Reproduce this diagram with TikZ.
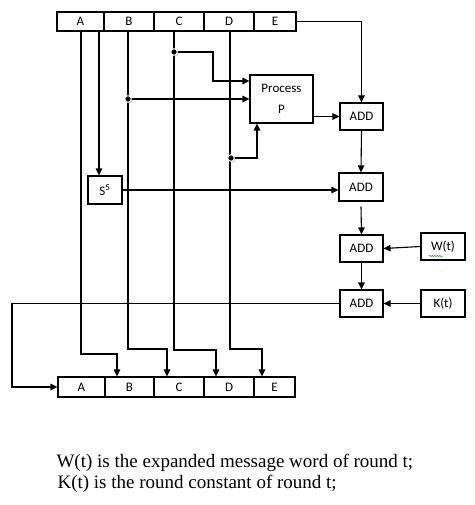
\documentclass[tikz,border=0pt]{standalone}
\usepackage{fontspec}
\setmainfont{Liberation Serif}
\newfontfamily\boxfont{Carlito}
\usetikzlibrary{arrows.meta,shadows,decorations.pathmorphing}
\begin{document}
\begin{tikzpicture}[x=1pt,y={(0pt,-1pt)},
  line width=1.1pt,
  arr/.style={-{Triangle[length=7pt,width=6.5pt]}},
  cell/.style={draw, inner sep=0, minimum height=19pt, font=\boxfont\fontsize{13}{15}\selectfont},
  box/.style={draw, inner sep=0, font=\boxfont\fontsize{13}{15}\selectfont},
  dot/.style={circle, fill=black, draw=white, line width=1pt, inner sep=0, minimum size=6.5pt,
    circular drop shadow={shadow xshift=1pt, shadow yshift=-1pt, opacity=0.4}},
  captxt/.style={anchor=base west, inner sep=0, font=\fontsize{19}{22}\selectfont},
  ]
\useasboundingbox (0,0) rectangle (474,505);

% top register
\node[cell, minimum width=47pt] (tA) at (80.5,21.5) {A};
\node[cell, minimum width=50pt] (tB) at (129,21.5) {B};
\node[cell, minimum width=50pt] (tC) at (179,21.5) {C};
\node[cell, minimum width=50pt] (tD) at (229,21.5) {D};
\node[cell, minimum width=42pt] (tE) at (275,21.5) {E};

% bottom register
\node[cell, minimum width=47pt, minimum height=20pt] (bA) at (81.5,387) {A};
\node[cell, minimum width=49pt, minimum height=20pt] (bB) at (129.5,387) {B};
\node[cell, minimum width=50pt, minimum height=20pt] (bC) at (179,387) {C};
\node[cell, minimum width=50pt, minimum height=20pt] (bD) at (229,387) {D};
\node[cell, minimum width=41pt, minimum height=20pt] (bE) at (274.5,387) {E};

% boxes
\node[box, minimum width=63pt, minimum height=48pt, align=center,
  font=\boxfont\fontsize{13}{21}\selectfont] (P) at (281.5,99) {Process\\P};
\node[box, minimum width=43pt, minimum height=27pt] (A1) at (361.5,116.5) {ADD};
\node[box, minimum width=44pt, minimum height=28pt] (A2) at (361,187) {ADD};
\node[box, minimum width=43pt, minimum height=27pt] (A3) at (361.5,248.5) {ADD};
\node[box, minimum width=43pt, minimum height=27pt] (A4) at (361.5,303.5) {ADD};
\node[box, minimum width=44pt, minimum height=27pt] (W) at (443,246.5) {W(t)};
\node[box, minimum width=44pt, minimum height=27pt] (K) at (443,303.5) {K(t)};
\node[box, minimum width=34pt, minimum height=28pt] (S) at (105,190) {S\textsuperscript{5}};

% helper coordinates
\coordinate (jA) at (81,354);  \coordinate (kA) at (117,354);
\coordinate (jB) at (128,349); \coordinate (kB) at (167,349);
\coordinate (jC) at (174,350); \coordinate (kC) at (216,350);
\coordinate (jD) at (230,349); \coordinate (kD) at (262,349);
\coordinate (jS) at (99,0);
\coordinate (mC) at (213,52);
\coordinate (pin) at (0,81);
\coordinate (mD) at (257,0);
\coordinate (fb) at (12,303.5);

% dot positions
\coordinate (dC) at (174,52);
\coordinate (dB) at (128,99);
\coordinate (dD) at (231,158);

% connectors
\draw[arr] (tA.south -| jA) -- (jA) -- (kA) -- (kA |- bB.north);
\draw[arr] (tB.south -| jB) -- (jB) -- (kB) -- (kB |- bC.north);
\draw[arr] (tC.south -| jC) -- (jC) -- (kC) -- (kC |- bD.north);
\draw[arr] (tD.south -| jD) -- (jD) -- (kD) -- (kD |- bE.north);
\draw[arr] (tA.south -| jS) -- (jS |- S.north);

\draw[arr] (dC) -- (mC) |- (P.west |- pin);
\draw[arr] (dB) -- (dB -| P.west);
\draw[arr] (dD) -| (mD |- P.south);

\draw[arr] (tE.east) -| (A1.north);
\draw[arr] (P.east |- A1.west) -- (A1.west);
\draw[arr] (A1.south) -- (A2.north);
\draw[arr] (S.east) -- (S.east -| A2.west);
\draw[arr] ([yshift=-5pt]A2.south) -- (A3.north);
\draw[arr] (A3.south) -- (A4.north);
\draw[arr] (W.west) -- (A3.east);
\draw[arr] (K.west) -- (A4.east);
\draw[arr] (A4.west) -- (fb) |- (bA.west);

% dots on top
\node[dot] (dotC) at (dC) {};
\node[dot] (dotB) at (dB) {};
\node[dot] (dotD) at (dD) {};

% spell-check squiggle under W
\draw[green!60!black, line width=0.5pt, decorate,
  decoration={snake, amplitude=0.6pt, segment length=2.5pt}] (429,256) -- (443,256);

% caption
\node[captxt] (cap1) at (56,467) {W(t) is the expanded message word of round t;};
\node[captxt] (cap2) at (57,488) {K(t) is the round constant of round t;};
\end{tikzpicture}
\end{document}
